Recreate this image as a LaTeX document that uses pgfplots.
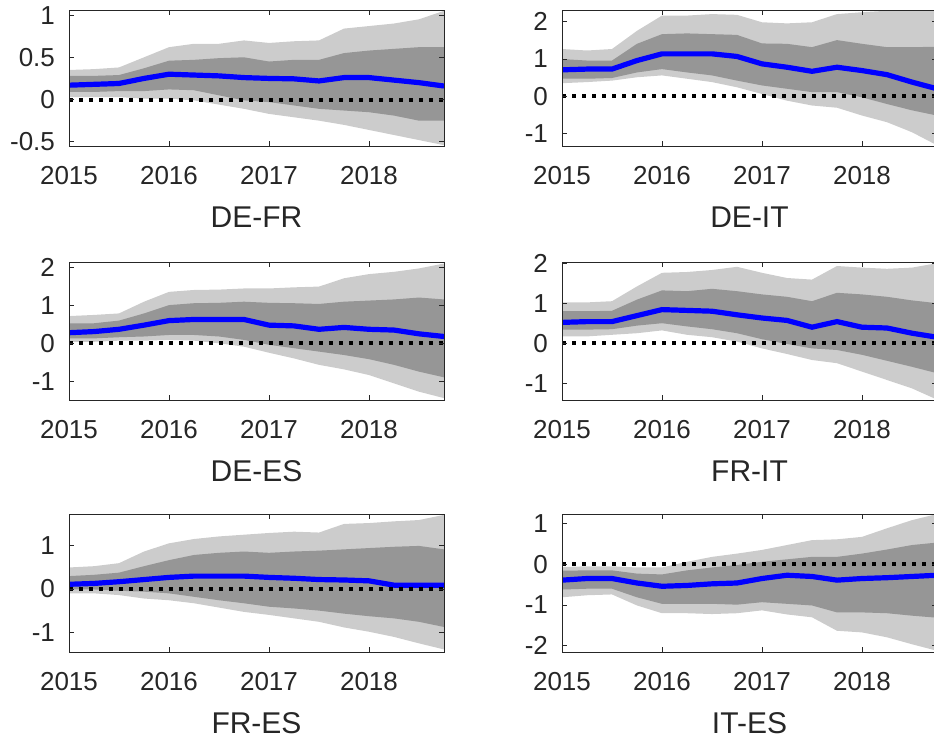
\documentclass[border=0pt]{standalone}
\usepackage{pgfplots}
\usepackage{pgfplotstable}
\pgfplotsset{compat=1.18}
\usepgfplotslibrary{fillbetween}
\usepackage{fontspec}
\setmainfont{Liberation Sans}
\definecolor{lgray}{RGB}{204,204,204}
\definecolor{dgray}{RGB}{150,150,150}
\definecolor{axcol}{RGB}{38,38,38}

\pgfplotstableread{
x lu du m dl ll
2015.00 0.35 0.28 0.17 0.09 0.03
2015.25 0.36 0.28 0.18 0.09 0.03
2015.50 0.38 0.29 0.19 0.10 0.03
2015.75 0.50 0.37 0.25 0.10 0.01
2016.00 0.62 0.46 0.30 0.12 0.01
2016.25 0.66 0.47 0.29 0.11 -0.01
2016.50 0.66 0.49 0.28 0.05 -0.06
2016.75 0.70 0.50 0.26 -0.01 -0.11
2017.00 0.67 0.45 0.25 -0.03 -0.17
2017.25 0.69 0.47 0.245 -0.07 -0.21
2017.50 0.70 0.47 0.22 -0.11 -0.25
2017.75 0.84 0.55 0.26 -0.13 -0.30
2018.00 0.87 0.58 0.26 -0.15 -0.36
2018.25 0.90 0.60 0.23 -0.19 -0.42
2018.50 0.95 0.62 0.20 -0.25 -0.48
2018.75 1.05 0.62 0.16 -0.25 -0.54
}\tDEFR
\pgfplotstableread{
x lu du m dl ll
2015.00 1.27 1.00 0.71 0.47 0.35
2015.25 1.23 0.96 0.73 0.47 0.38
2015.50 1.27 0.96 0.73 0.49 0.42
2015.75 1.76 1.41 0.96 0.64 0.51
2016.00 2.17 1.67 1.14 0.73 0.56
2016.25 2.17 1.69 1.14 0.64 0.47
2016.50 2.21 1.67 1.14 0.56 0.38
2016.75 2.19 1.65 1.07 0.42 0.24
2017.00 1.99 1.42 0.87 0.29 0.06
2017.25 1.96 1.41 0.78 0.20 -0.12
2017.50 1.99 1.32 0.67 0.11 -0.25
2017.75 2.21 1.51 0.78 0.11 -0.31
2018.00 2.26 1.41 0.69 -0.03 -0.52
2018.25 2.30 1.32 0.58 -0.21 -0.70
2018.50 2.32 1.32 0.38 -0.38 -0.97
2018.75 2.35 1.33 0.20 -0.52 -1.32
}\tDEIT
\pgfplotstableread{
x lu du m dl ll
2015.00 0.72 0.53 0.28 0.13 0.04
2015.25 0.75 0.53 0.31 0.13 0.04
2015.50 0.79 0.60 0.37 0.16 0.07
2015.75 1.10 0.79 0.48 0.18 0.07
2016.00 1.36 1.01 0.60 0.22 0.09
2016.25 1.41 1.06 0.63 0.22 0.07
2016.50 1.42 1.07 0.63 0.18 0.00
2016.75 1.45 1.10 0.63 0.09 -0.09
2017.00 1.45 1.07 0.48 -0.04 -0.25
2017.25 1.48 1.06 0.46 -0.13 -0.40
2017.50 1.50 1.04 0.37 -0.22 -0.57
2017.75 1.72 1.10 0.42 -0.31 -0.69
2018.00 1.83 1.13 0.37 -0.42 -0.84
2018.25 1.89 1.16 0.35 -0.57 -1.06
2018.50 1.98 1.21 0.25 -0.75 -1.28
2018.75 2.11 1.16 0.18 -0.90 -1.45
}\tDEES
\pgfplotstableread{
x lu du m dl ll
2015.00 1.02 0.80 0.52 0.34 0.17
2015.25 1.02 0.80 0.54 0.34 0.17
2015.50 1.05 0.81 0.54 0.35 0.21
2015.75 1.42 1.09 0.69 0.44 0.25
2016.00 1.76 1.32 0.84 0.50 0.32
2016.25 1.78 1.30 0.82 0.42 0.21
2016.50 1.83 1.36 0.80 0.35 0.15
2016.75 1.91 1.30 0.71 0.25 0.04
2017.00 1.76 1.22 0.63 0.10 -0.13
2017.25 1.63 1.16 0.57 -0.02 -0.27
2017.50 1.59 1.05 0.40 -0.13 -0.42
2017.75 1.93 1.26 0.54 -0.17 -0.50
2018.00 1.89 1.22 0.40 -0.29 -0.71
2018.25 1.86 1.16 0.38 -0.44 -0.92
2018.50 1.89 1.07 0.25 -0.59 -1.13
2018.75 2.00 1.00 0.15 -0.75 -1.41
}\tFRIT
\pgfplotstableread{
x lu du m dl ll
2015.00 0.50 0.30 0.11 -0.01 -0.10
2015.25 0.53 0.33 0.13 -0.01 -0.10
2015.50 0.60 0.38 0.17 -0.04 -0.14
2015.75 0.87 0.53 0.22 -0.06 -0.22
2016.00 1.06 0.67 0.27 -0.10 -0.26
2016.25 1.16 0.79 0.30 -0.18 -0.33
2016.50 1.22 0.84 0.30 -0.26 -0.43
2016.75 1.26 0.87 0.30 -0.33 -0.53
2017.00 1.30 0.84 0.27 -0.41 -0.60
2017.25 1.33 0.87 0.25 -0.45 -0.68
2017.50 1.31 0.89 0.22 -0.50 -0.76
2017.75 1.51 0.92 0.21 -0.57 -0.89
2018.00 1.53 0.95 0.19 -0.63 -0.99
2018.25 1.57 0.98 0.09 -0.68 -1.11
2018.50 1.60 1.00 0.09 -0.76 -1.26
2018.75 1.72 0.92 0.09 -0.88 -1.40
}\tFRES
\pgfplotstableread{
x lu du m dl ll
2015.00 -0.07 -0.16 -0.39 -0.62 -0.81
2015.25 -0.05 -0.15 -0.35 -0.60 -0.76
2015.50 -0.05 -0.15 -0.35 -0.60 -0.74
2015.75 -0.08 -0.23 -0.46 -0.81 -1.01
2016.00 -0.08 -0.25 -0.54 -0.97 -1.20
2016.25 0.06 -0.15 -0.52 -0.97 -1.20
2016.50 0.18 -0.08 -0.48 -0.97 -1.22
2016.75 0.26 -0.02 -0.46 -0.99 -1.20
2017.00 0.35 0.06 -0.35 -0.93 -1.13
2017.25 0.47 0.12 -0.27 -0.97 -1.23
2017.50 0.59 0.18 -0.30 -1.01 -1.30
2017.75 0.61 0.18 -0.39 -1.18 -1.63
2018.00 0.67 0.26 -0.35 -1.18 -1.67
2018.25 0.88 0.36 -0.33 -1.20 -1.79
2018.50 1.08 0.47 -0.30 -1.26 -1.96
2018.75 1.23 0.53 -0.27 -1.31 -2.12
}\tITES

\pgfplotsset{
  base/.style={
    scale only axis, width=187.5pt, anchor=north west,
    xmin=2015, xmax=2018.75,
    xtick={2015,2016,2017,2018}, xticklabels={2015,2016,2017,2018},
    tick align=inside, major tick length=2.5pt,
    axis line style={draw=axcol, line width=0.5pt},
    every tick/.style={axcol, line width=0.5pt},
    tick label style={font=\fontsize{13}{15}\selectfont, color=axcol},
    /pgf/number format/assume math mode=true,
    xticklabel style={yshift=-6.5pt},
    yticklabel style={xshift=-3.5pt},
    xlabel style={at={(axis description cs:0.5,0)}, anchor=center, yshift=-35.5pt,
      font=\fontsize{15}{18}\selectfont, color=axcol},
    axis on top,
  }
}
\newcommand{\panel}[2]{%
\begin{axis}[base,#1]
\addplot[name path=lu,draw=none] table[x=x,y=lu]{#2};
\addplot[name path=ll,draw=none] table[x=x,y=ll]{#2};
\addplot[name path=du,draw=none] table[x=x,y=du]{#2};
\addplot[name path=dl,draw=none] table[x=x,y=dl]{#2};
\addplot[fill=lgray,draw=none] fill between[of=lu and ll];
\addplot[fill=dgray,draw=none] fill between[of=du and dl];
\addplot[blue, line width=2.6pt] table[x=x,y=m]{#2};
\addplot[black, line width=2pt, dash pattern=on 2pt off 3pt] coordinates {(2015,0) (2018.75,0)};
\end{axis}}

\begin{document}
\begin{tikzpicture}
\panel{at={(34.5pt,-5pt)}, height=68pt, ymin=-0.55, ymax=1.06,
  ytick={-0.5,0,0.5,1}, yticklabels={-0.5,0,0.5,1}, xlabel={DE-FR}}{\tDEFR}
\panel{at={(281pt,-5pt)}, height=68pt, ymin=-1.34, ymax=2.32,
  ytick={-1,0,1,2}, yticklabels={-1,0,1,2}, xlabel={DE-IT}}{\tDEIT}
\panel{at={(34.5pt,-131pt)}, height=69pt, ymin=-1.5, ymax=2.15,
  ytick={-1,0,1,2}, yticklabels={-1,0,1,2}, xlabel={DE-ES}}{\tDEES}
\panel{at={(281pt,-131pt)}, height=69pt, ymin=-1.42, ymax=2.03,
  ytick={-1,0,1,2}, yticklabels={-1,0,1,2}, xlabel={FR-IT}}{\tFRIT}
\panel{at={(34.5pt,-257pt)}, height=69pt, ymin=-1.46, ymax=1.74,
  ytick={-1,0,1}, yticklabels={-1,0,1}, xlabel={FR-ES}}{\tFRES}
\panel{at={(281pt,-257pt)}, height=69pt, ymin=-2.15, ymax=1.23,
  ytick={-2,-1,0,1}, yticklabels={-2,-1,0,1}, xlabel={IT-ES}}{\tITES}
\pgfresetboundingbox
\path[use as bounding box] (0,0) rectangle (467pt,-370pt);
\end{tikzpicture}
\end{document}
